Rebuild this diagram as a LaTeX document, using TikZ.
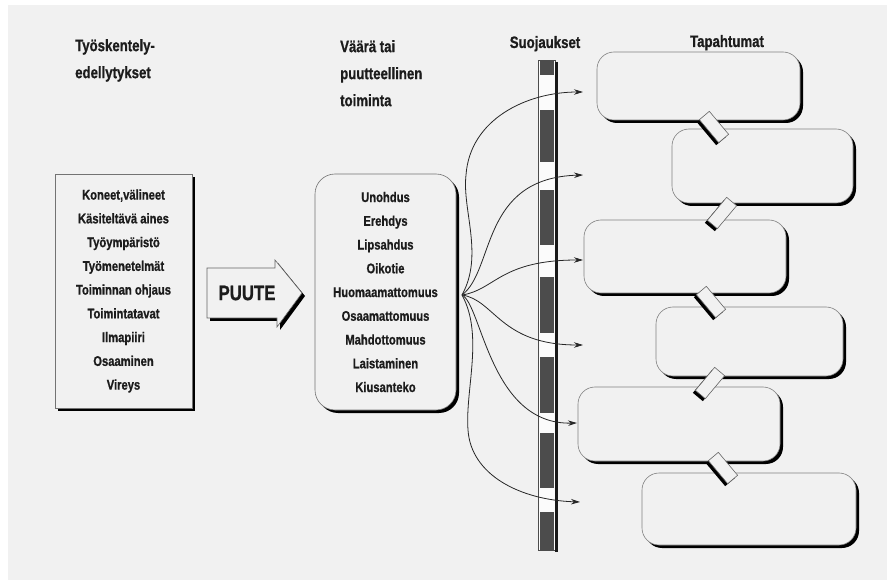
\documentclass[tikz,border=0pt]{standalone}
\usepackage{fontspec}
\newfontfamily\condfont{Liberation Sans}[FakeStretch=0.8, BoldFeatures={FakeBold=0.8}]
\usetikzlibrary{shadows,arrows.meta}
\definecolor{paper}{HTML}{F1F1F1}
\definecolor{ink}{HTML}{1C1C1C}
\definecolor{bardark}{HTML}{4C4C4C}

\begin{document}
\begin{tikzpicture}[x=1pt,y=-1pt,
  heading/.style={font=\condfont\bfseries\fontsize{16.5}{27}\selectfont, text=ink, align=left, inner sep=0pt},
  hardshadow/.style={drop shadow={shadow xshift=3pt, shadow yshift=-3pt, opacity=1, fill=black}},
  listbox/.style={draw=black!55, line width=0.6pt, fill=paper, hardshadow, inner sep=0pt, align=center,
    text=ink, font=\condfont\bfseries\fontsize{14}{23.75}\selectfont},
  eventbox/.style={draw=black!50, line width=0.6pt, fill=paper, rounded corners=17pt, hardshadow, inner sep=0pt},
  linkbar/.style={draw=black!60, line width=0.6pt, fill=paper, minimum width=30pt, minimum height=13pt,
    inner sep=0pt, drop shadow={shadow xshift=-2.5pt, shadow yshift=-2.5pt, opacity=1, fill=black}},
  flow/.style={draw=black!85, line width=0.8pt, -{Stealth[length=9pt,width=5.5pt]}},
]
% page
\useasboundingbox (0,0) rectangle (887,580);
\fill[white] (0,0) rectangle (887,580);
\fill[paper] (8,5) rectangle (887,580);

% column headings
\node[heading, anchor=north west] (hPre) at (75,39) {Työskentely-\\edellytykset};
\node[heading, anchor=north west] (hAct) at (340,40) {Väärä tai\\puutteellinen\\toiminta};
\node[heading, anchor=base] (hGuard) at (545,48) {Suojaukset};
\node[heading, anchor=base] (hEvent) at (727,47) {Tapahtumat};

% left list of preconditions
\node[listbox, minimum width=137pt, minimum height=234pt] (pre) at (123.5,291)
  {Koneet,välineet\\Käsiteltävä aines\\Työympäristö\\Työmenetelmät\\Toiminnan ohjaus\\Toimintatavat\\Ilmapiiri\\Osaaminen\\Vireys};

% block arrow
\path[draw=black!60, line width=0.6pt, fill=paper, hardshadow]
  (207,268) -- (275,268) -- (275,260) -- (302,293) -- (277,327) -- (277,318) -- (207,318) -- cycle;
\node[font=\condfont\bfseries\fontsize{21}{21}\selectfont, text=ink, inner sep=0pt] (gap) at (247,293) {PUUTE};

% middle list of faulty actions
\node[listbox, rounded corners=20pt, minimum width=141pt, minimum height=236pt] (act) at (385.5,292)
  {Unohdus\\Erehdys\\Lipsahdus\\Oikotie\\Huomaamattomuus\\Osaamattomuus\\Mahdottomuus\\Laistaminen\\Kiusanteko};

% barrier column
\fill[white!70!paper] (538,60) rectangle (555,550);
\foreach \a/\b in {60/75, 110/162, 190/245, 277/333, 357/413, 433/488, 512/550}
  \fill[bardark] (539.5,\a) rectangle (553.5,\b);
\draw[black!70, line width=0.6pt] (538,60) rectangle (555,550);
\draw[black!90, line width=2.6pt] (556.3,62) -- (556.3,551.5);

% fan of causes
\coordinate (fan) at (462,295);
\coordinate (g1) at (583,92);
\coordinate (g2) at (583,175);
\coordinate (g3) at (583,260);
\coordinate (g4) at (583,345);
\coordinate (g5) at (577,423);
\coordinate (g6) at (580,502);

\draw[flow] (fan) .. controls (484,255) and (462,210) .. (466,175)
                  .. controls (470,119) and (527,92) .. (g1);
\draw[flow] (fan) .. controls (495,270) and (480,178) .. (g2);
\draw[flow] (fan) .. controls (495,290) and (500,260) .. (g3);
\draw[flow] (fan) .. controls (495,300) and (500,345) .. (g4);
\draw[flow] (fan) .. controls (482,305) and (490,425) .. (g5);
\draw[flow] (fan) .. controls (484,335) and (465,390) .. (468,430)
                  .. controls (471,475) and (520,500) .. (g6);

% chain of events
\node[eventbox, minimum width=203pt, minimum height=68pt] (e1) at (698.5,86) {};
\node[eventbox, minimum width=181pt, minimum height=74pt] (e2) at (762.5,166) {};
\node[eventbox, minimum width=202pt, minimum height=73pt] (e3) at (685,256.5) {};
\node[eventbox, minimum width=187pt, minimum height=69pt] (e4) at (749.5,341.5) {};
\node[eventbox, minimum width=202pt, minimum height=74pt] (e5) at (679,424) {};
\node[eventbox, minimum width=214pt, minimum height=72pt] (e6) at (749,509) {};

\node[linkbar, rotate=-50] (l12) at (714,127) {};
\node[linkbar, rotate=50]  (l23) at (722,213) {};
\node[linkbar, rotate=-50] (l34) at (711,302) {};
\node[linkbar, rotate=50]  (l45) at (710,383) {};
\node[linkbar, rotate=-50] (l56) at (723,468) {};
\end{tikzpicture}
\end{document}
